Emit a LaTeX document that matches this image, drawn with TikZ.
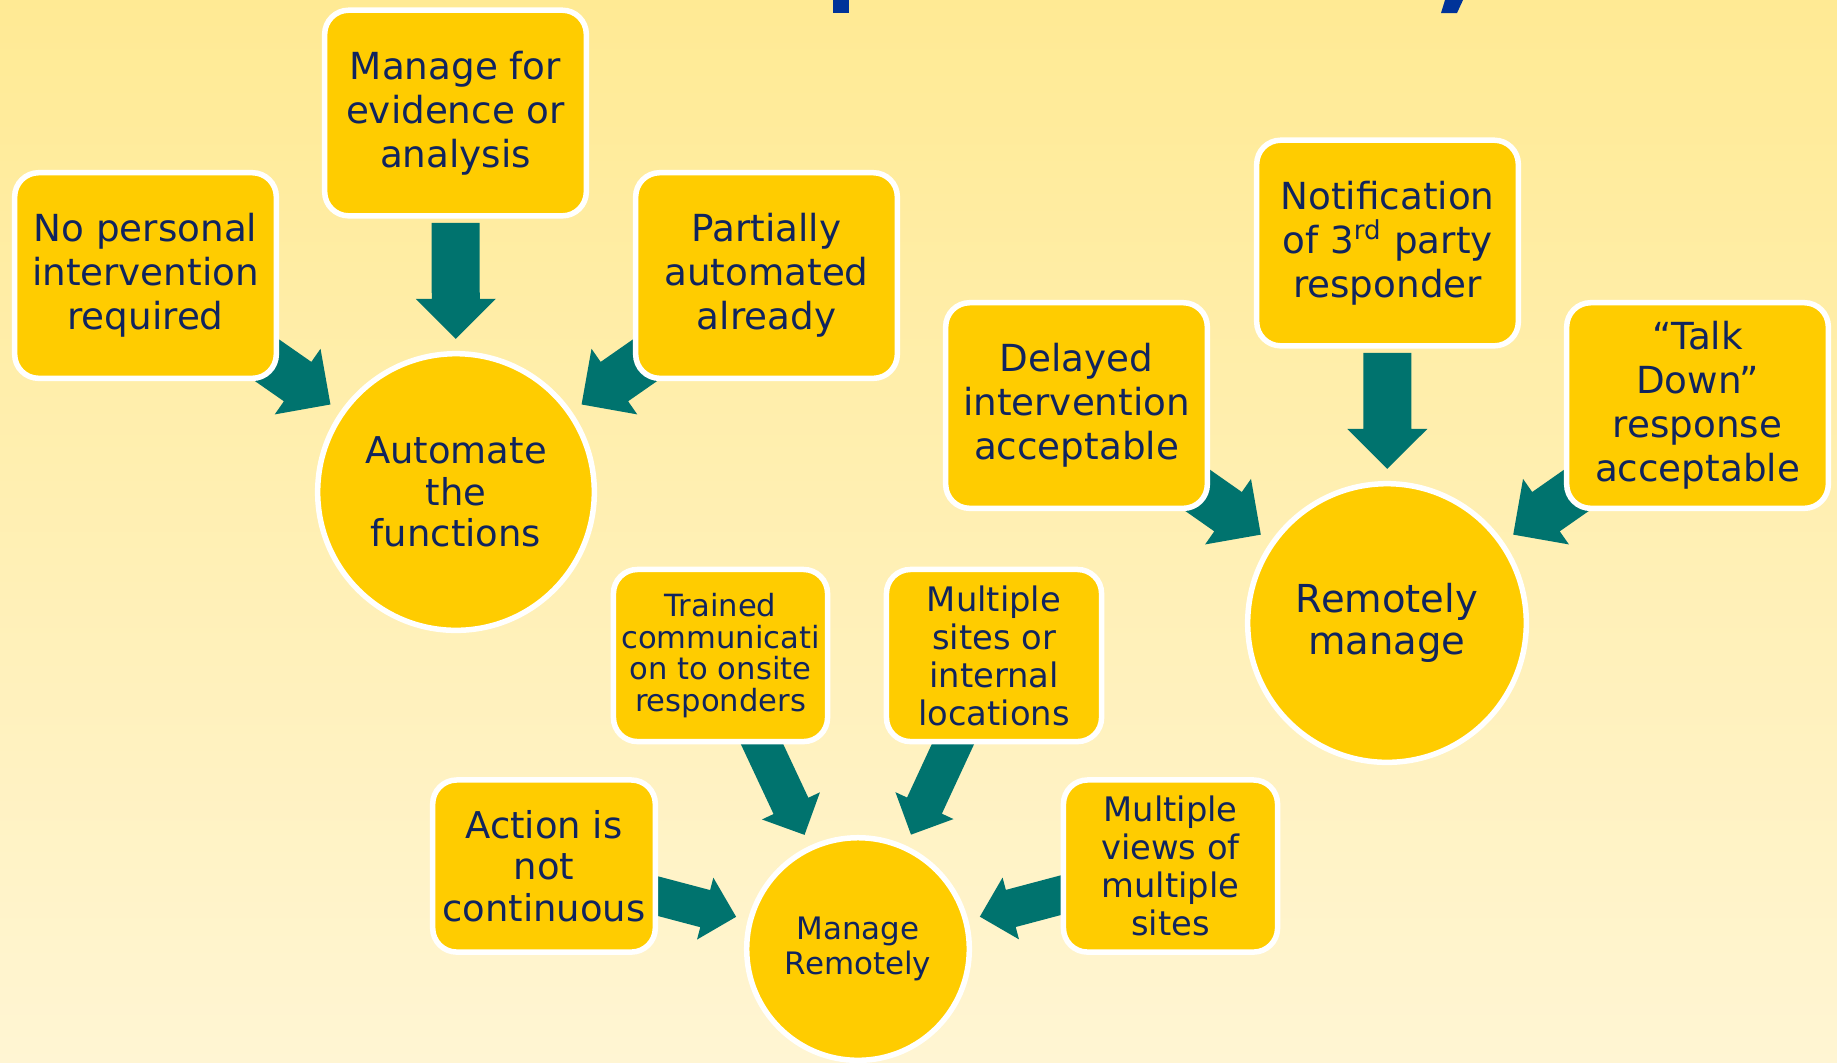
\documentclass[tikz,border=0pt]{standalone}
\usepackage{fontspec}
\setmainfont{DejaVu Sans}
\usepackage{tikz}
\usetikzlibrary{calc,positioning,shapes.geometric}
\definecolor{boxgold}{RGB}{255,204,0}
\definecolor{arrowteal}{RGB}{0,115,110}
\definecolor{textnavy}{RGB}{16,36,94}
\definecolor{titleblue}{RGB}{0,51,153}
\definecolor{bgtop}{RGB}{255,234,148}
\definecolor{bgbottom}{RGB}{255,245,211}
\pgfdeclarelayer{back}
\pgfdeclarelayer{mid}
\pgfsetlayers{back,mid,main}
\tikzset{
  topic/.style={draw=white, line width=0.055cm, fill=boxgold, rounded corners=0.24cm,
    minimum width=2.615cm, minimum height=2.055cm, inner sep=0pt, align=center,
    text=textnavy, font=\fontsize{10.6pt}{12.5pt}\selectfont},
  minor/.style={topic, minimum width=2.14cm, minimum height=1.72cm},
  hub/.style={circle, draw=white, line width=0.055cm, fill=boxgold, inner sep=0pt,
    align=center, text=textnavy}
}
% block arrow from #1 towards the centre of #2, tip #3 away from that centre, size #4, length #5
\newcommand{\feedarrow}[5]{%
  \pgfmathanglebetweenpoints{\pgfpointanchor{#1}{center}}{\pgfpointanchor{#2}{center}}%
  \edef\feedangle{\pgfmathresult}%
  \fill[arrowteal, shift={($(#2)!#3!(#1)$)}, rotate=\feedangle, scale=#4]
    (0,0) -- (-40,40) -- (-40,24) -- (-#5,24) -- (-#5,-24) -- (-40,-24) -- (-40,-40) -- cycle;}
\begin{document}
\begin{tikzpicture}[x=0.01cm, y=-0.01cm]
\useasboundingbox (0,0) rectangle (1837,1062);
\begin{pgfonlayer}{back}
\shade[top color=bgtop, bottom color=bgbottom] (0,0) rectangle (1837,1062);
% descenders of the cut-off title
\fill[titleblue] (833,0) rectangle (849,13);
\fill[titleblue] (1445,0) -- (1463,0) -- (1457,13) -- (1441,13) -- cycle;
\end{pgfonlayer}

\node[topic] (nopers) at (145.5,275.5) {No personal\\intervention\\required};
\node[topic] (evid) at (455.5,113) {Manage for\\evidence or\\analysis};
\node[topic] (partial) at (766.5,275.5) {Partially\\automated\\already};
\node[hub, minimum size=2.765cm, font=\fontsize{10.5pt}{11.8pt}\selectfont] (auto) at (456,492) {Automate\\the\\functions};

\node[topic] (delay) at (1076.5,405.5) {Delayed\\intervention\\acceptable};
\node[topic] (notif) at (1387.5,243) {Notification\\of 3\textsuperscript{rd} party\\responder};
\node[topic] (talk) at (1697.5,405.5) {“Talk\\Down”\\response\\acceptable};
\node[hub, minimum size=2.785cm, font=\fontsize{10.95pt}{12pt}\selectfont] (remote) at (1387,623) {Remotely\\manage};

\node[minor, font=\fontsize{8.7pt}{9pt}\selectfont] (trained) at (720.5,655.5) {Trained\\communicati\\on to onsite\\responders};
\node[minor, minimum width=2.15cm, font=\fontsize{9.6pt}{10.8pt}\selectfont] (sites) at (994,655.5) {Multiple\\sites or\\internal\\locations};
\node[minor, minimum width=2.225cm, font=\fontsize{10.5pt}{11.8pt}\selectfont] (action) at (544,866) {Action is\\not\\continuous};
\node[minor, font=\fontsize{9.6pt}{10.8pt}\selectfont] (views) at (1170.5,866) {Multiple\\views of\\multiple\\sites};
\node[hub, minimum size=2.225cm, font=\fontsize{8.8pt}{10pt}\selectfont] (manrem) at (858,949) {Manage\\Remotely};

\begin{pgfonlayer}{mid}
\foreach \s in {nopers,evid,partial}
  \feedarrow{\s}{auto}{1.53cm}{1}{116};
\foreach \s in {delay,notif,talk}
  \feedarrow{\s}{remote}{1.54cm}{1}{116};
\foreach \s in {trained,sites,action,views}
  \feedarrow{\s}{manrem}{1.26cm}{0.8}{150};
\end{pgfonlayer}
\end{tikzpicture}
\end{document}
